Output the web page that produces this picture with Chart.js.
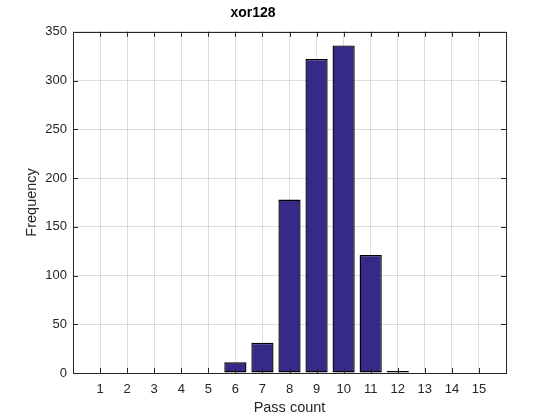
<!DOCTYPE html>
<html>
<head>
<meta charset="utf-8">
<script src="https://cdn.jsdelivr.net/npm/chart.js@4"></script>
<style>
  html, body { margin: 0; padding: 0; background: #fff; }
  #wrap { width: 560px; height: 420px; position: relative; }
</style>
</head>
<body>
<div id="wrap"><canvas id="c"></canvas></div>
<script>
/* histogram of pass counts, MATLAB-style axes */
var passCounts = [1, 2, 3, 4, 5, 6, 7, 8, 9, 10, 11, 12, 13, 14, 15];
var frequency = [0, 0, 0, 0, 0, 11, 31, 178, 322, 336, 121, 2, 0, 0, 0];
var yTicks = [0, 50, 100, 150, 200, 250, 300, 350];

var INK = '#262626';
var GRID = 'rgba(0,0,0,0.13)';
var FONT = '"Liberation Sans", Arial, sans-serif';

/* box around the plot with ticks pointing inward, like MATLAB */
var boxTicks = {
  id: 'boxTicks',
  afterDatasetsDraw: function (chart) {
    var a = chart.chartArea, ctx = chart.ctx;
    var xs = chart.scales.x, ys = chart.scales.y;
    ctx.save();
    ctx.strokeStyle = INK;
    ctx.lineWidth = 1;
    ctx.beginPath();
    passCounts.forEach(function (v) {
      var px = Math.round(xs.getPixelForValue(v)) + 0.5;
      ctx.moveTo(px, a.bottom); ctx.lineTo(px, a.bottom - 5);
      ctx.moveTo(px, a.top); ctx.lineTo(px, a.top + 5);
    });
    yTicks.forEach(function (v) {
      var py = Math.round(ys.getPixelForValue(v)) + 0.5;
      ctx.moveTo(a.left, py); ctx.lineTo(a.left + 5, py);
      ctx.moveTo(a.right, py); ctx.lineTo(a.right - 5, py);
    });
    ctx.stroke();
    ctx.strokeRect(Math.round(a.left) + 0.5, Math.round(a.top) + 0.5,
      Math.round(a.right - a.left), Math.round(a.bottom - a.top));
    ctx.restore();
  }
};

new Chart(document.getElementById('c'), {
  type: 'bar',
  data: {
    datasets: [{
      label: 'Frequency',
      data: passCounts.map(function (p, i) { return { x: p, y: frequency[i] }; }),
      backgroundColor: '#352a87',
      borderColor: '#000000',
      borderWidth: 1.4,
      borderSkipped: false,
      inflateAmount: 0,
      categoryPercentage: 0.82,
      barPercentage: 1
    }]
  },
  options: {
    responsive: true,
    maintainAspectRatio: false,
    animation: false,
    layout: { padding: { top: 5, right: 54, bottom: 0, left: 0 } },
    plugins: {
      legend: { display: false },
      tooltip: { enabled: false },
      title: {
        display: true,
        text: 'xor128',
        color: '#000',
        font: { family: FONT, size: 14, weight: 'bold' },
        padding: { top: 0, bottom: 10 }
      }
    },
    scales: {
      x: {
        type: 'linear',
        min: 0,
        max: 16,
        offset: false,
        afterFit: function (s) { s.height = 47; },
        grid: { color: GRID, offset: false, drawTicks: false, tickLength: 0 },
        border: { display: false },
        ticks: {
          stepSize: 1,
          color: INK,
          padding: 9,
          maxRotation: 0,
          autoSkip: false,
          font: { family: FONT, size: 13 },
          callback: function (v) { return (v >= 1 && v <= 15) ? String(v) : ''; }
        },
        title: {
          display: true,
          text: 'Pass count',
          color: INK,
          font: { family: FONT, size: 14.5 },
          padding: { top: 0, bottom: 3 }
        }
      },
      y: {
        min: 0,
        max: 350,
        afterFit: function (s) { s.width = 73; },
        grid: { color: GRID, drawTicks: false, tickLength: 0 },
        border: { display: false },
        ticks: {
          stepSize: 50,
          color: INK,
          padding: 6,
          font: { family: FONT, size: 13 }
        },
        title: {
          display: true,
          text: 'Frequency',
          color: INK,
          font: { family: FONT, size: 14.5 },
          padding: { top: 23, bottom: 0 }
        }
      }
    }
  },
  plugins: [boxTicks]
});
</script>
</body>
</html>
